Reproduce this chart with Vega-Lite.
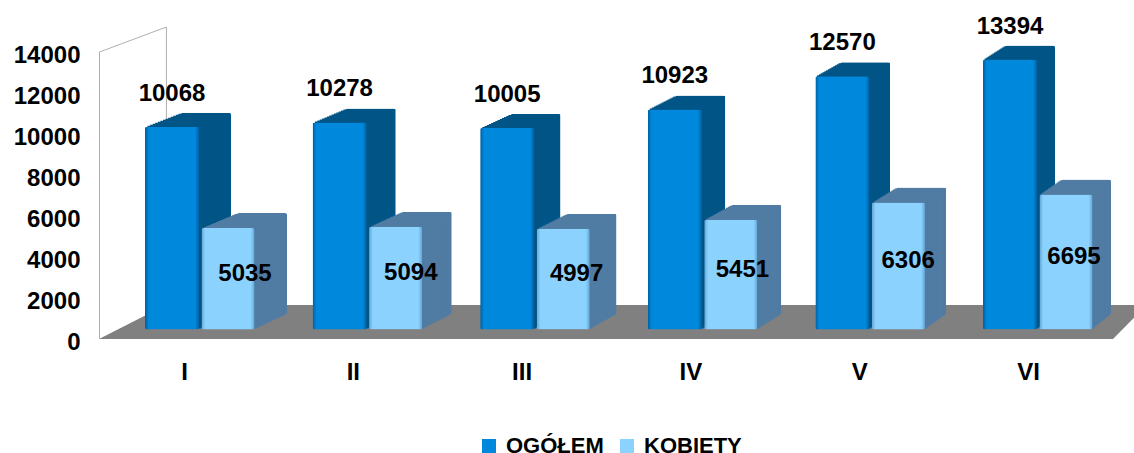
{"$schema":"https://vega.github.io/schema/vega-lite/v6.json","width":1134,"height":453,"padding":0,"autosize":{"type":"none"},"background":"white","config":{"view":{"stroke":null},"font":"Liberation Sans"},
"datasets":{"ogolem":[{"m":"I","s":"OGÓŁEM","v":10068},{"m":"II","s":"OGÓŁEM","v":10278},{"m":"III","s":"OGÓŁEM","v":10005},{"m":"IV","s":"OGÓŁEM","v":10923},{"m":"V","s":"OGÓŁEM","v":12570},{"m":"VI","s":"OGÓŁEM","v":13394}],
"kobiety":[{"m":"I","s":"KOBIETY","v":5035},{"m":"II","s":"KOBIETY","v":5094},{"m":"III","s":"KOBIETY","v":4997},{"m":"IV","s":"KOBIETY","v":5451},{"m":"V","s":"KOBIETY","v":6306},{"m":"VI","s":"KOBIETY","v":6695}],
"floor":[{"p":0,"lo":0,"hi":0},{"p":0.396,"lo":0,"hi":1659},{"p":6,"lo":0,"hi":1659},{"p":6.2,"lo":1659,"hi":1659}],
"wall":[{"o":1,"p":0,"y":0},{"o":2,"p":0,"y":14000},{"o":3,"p":0.396,"y":15220},{"o":4,"p":0.396,"y":1659}]},
"layer":[
{"data":{"name":"floor"},"mark":{"type":"area","color":"#808080"},"encoding":{"x":{"field":"p","type":"quantitative","scale":{"domain":[0,6.2],"range":[99,1146.8]},"axis":null},"y":{"field":"lo","type":"quantitative","scale":{"domain":[0,16000],"range":[339,11]},"axis":null},"y2":{"field":"hi"}}},
{"data":{"name":"wall"},"mark":{"type":"line","color":"#b0b0b0","strokeWidth":1},"encoding":{"order":{"field":"o","type":"quantitative"},"x":{"field":"p","type":"quantitative","scale":{"domain":[0,6.2],"range":[99.5,1147.3]},"axis":null},"y":{"field":"y","type":"quantitative","scale":{"domain":[0,16000],"range":[339,11]},"axis":null}}},
{"data":{"name":"ogolem"},"mark":{"type":"point","opacity":0},"encoding":{"x":{"field":"m","type":"ordinal","scale":{"type":"point","padding":0,"domain":["I","II","III","IV","V","VI"],"range":[184,1028]},"axis":{"title":null,"orient":"bottom","offset":-81,"domain":false,"ticks":false,"labelAngle":0,"labelPadding":0,"labelBaseline":"middle","labelFont":"Liberation Sans","labelFontSize":24,"labelFontWeight":"bold","labelColor":"#000"}},"y":{"field":"v","type":"quantitative","scale":{"domain":[0,14000],"range":[342,55]},"axis":{"title":null,"orient":"left","offset":-80,"values":[0,2000,4000,6000,8000,10000,12000,14000],"format":"d","domain":false,"ticks":false,"grid":false,"labelPadding":0,"labelFont":"Liberation Sans","labelFontSize":24,"labelFontWeight":"bold","labelColor":"#000"}}}},
{"data":{"name":"ogolem"},"mark":{"type":"bar","size":50,"color":"#005586","cornerRadius":2},"encoding":{"x":{"field":"m","type":"ordinal","scale":{"type":"point","padding":0,"domain":["I","II","III","IV","V","VI"],"range":[206,1030]},"axis":null},"y":{"field":"v","type":"quantitative","scale":{"domain":[0,14000],"range":[315.5,33.4]},"axis":null}}},
{"data":{"name":"ogolem"},"mark":{"type":"bar","size":50.3,"color":"#005586"},"encoding":{"x":{"field":"m","type":"ordinal","scale":{"type":"point","padding":0,"domain":["I","II","III","IV","V","VI"],"range":[203.6,1028.6]},"axis":null},"y":{"field":"v","type":"quantitative","scale":{"domain":[0,14000],"range":[316.5,34.4]},"axis":null}}},
{"data":{"name":"ogolem"},"mark":{"type":"bar","size":50.6,"color":"#005586"},"encoding":{"x":{"field":"m","type":"ordinal","scale":{"type":"point","padding":0,"domain":["I","II","III","IV","V","VI"],"range":[201.2,1027.2]},"axis":null},"y":{"field":"v","type":"quantitative","scale":{"domain":[0,14000],"range":[317.5,35.4]},"axis":null}}},
{"data":{"name":"ogolem"},"mark":{"type":"bar","size":50.9,"color":"#005586"},"encoding":{"x":{"field":"m","type":"ordinal","scale":{"type":"point","padding":0,"domain":["I","II","III","IV","V","VI"],"range":[198.7,1025.7]},"axis":null},"y":{"field":"v","type":"quantitative","scale":{"domain":[0,14000],"range":[318.5,36.4]},"axis":null}}},
{"data":{"name":"ogolem"},"mark":{"type":"bar","size":51.1,"color":"#005586"},"encoding":{"x":{"field":"m","type":"ordinal","scale":{"type":"point","padding":0,"domain":["I","II","III","IV","V","VI"],"range":[196.3,1024.3]},"axis":null},"y":{"field":"v","type":"quantitative","scale":{"domain":[0,14000],"range":[319.5,37.4]},"axis":null}}},
{"data":{"name":"ogolem"},"mark":{"type":"bar","size":51.4,"color":"#005586"},"encoding":{"x":{"field":"m","type":"ordinal","scale":{"type":"point","padding":0,"domain":["I","II","III","IV","V","VI"],"range":[193.9,1022.9]},"axis":null},"y":{"field":"v","type":"quantitative","scale":{"domain":[0,14000],"range":[320.5,38.4]},"axis":null}}},
{"data":{"name":"ogolem"},"mark":{"type":"bar","size":51.7,"color":"#005586"},"encoding":{"x":{"field":"m","type":"ordinal","scale":{"type":"point","padding":0,"domain":["I","II","III","IV","V","VI"],"range":[191.4,1021.4]},"axis":null},"y":{"field":"v","type":"quantitative","scale":{"domain":[0,14000],"range":[321.5,39.4]},"axis":null}}},
{"data":{"name":"ogolem"},"mark":{"type":"bar","size":52,"color":"#005586"},"encoding":{"x":{"field":"m","type":"ordinal","scale":{"type":"point","padding":0,"domain":["I","II","III","IV","V","VI"],"range":[189,1020]},"axis":null},"y":{"field":"v","type":"quantitative","scale":{"domain":[0,14000],"range":[322.5,40.4]},"axis":null}}},
{"data":{"name":"ogolem"},"mark":{"type":"bar","size":52.3,"color":"#005586"},"encoding":{"x":{"field":"m","type":"ordinal","scale":{"type":"point","padding":0,"domain":["I","II","III","IV","V","VI"],"range":[186.6,1018.6]},"axis":null},"y":{"field":"v","type":"quantitative","scale":{"domain":[0,14000],"range":[323.5,41.4]},"axis":null}}},
{"data":{"name":"ogolem"},"mark":{"type":"bar","size":52.6,"color":"#005586"},"encoding":{"x":{"field":"m","type":"ordinal","scale":{"type":"point","padding":0,"domain":["I","II","III","IV","V","VI"],"range":[184.2,1017.2]},"axis":null},"y":{"field":"v","type":"quantitative","scale":{"domain":[0,14000],"range":[324.5,42.4]},"axis":null}}},
{"data":{"name":"ogolem"},"mark":{"type":"bar","size":52.9,"color":"#005586"},"encoding":{"x":{"field":"m","type":"ordinal","scale":{"type":"point","padding":0,"domain":["I","II","III","IV","V","VI"],"range":[181.7,1015.7]},"axis":null},"y":{"field":"v","type":"quantitative","scale":{"domain":[0,14000],"range":[325.5,43.4]},"axis":null}}},
{"data":{"name":"ogolem"},"mark":{"type":"bar","size":53.1,"color":"#005586"},"encoding":{"x":{"field":"m","type":"ordinal","scale":{"type":"point","padding":0,"domain":["I","II","III","IV","V","VI"],"range":[179.3,1014.3]},"axis":null},"y":{"field":"v","type":"quantitative","scale":{"domain":[0,14000],"range":[326.5,44.4]},"axis":null}}},
{"data":{"name":"ogolem"},"mark":{"type":"bar","size":53.4,"color":"#005586"},"encoding":{"x":{"field":"m","type":"ordinal","scale":{"type":"point","padding":0,"domain":["I","II","III","IV","V","VI"],"range":[176.9,1012.9]},"axis":null},"y":{"field":"v","type":"quantitative","scale":{"domain":[0,14000],"range":[327.5,45.4]},"axis":null}}},
{"data":{"name":"ogolem"},"mark":{"type":"bar","size":53.7,"color":"#005586"},"encoding":{"x":{"field":"m","type":"ordinal","scale":{"type":"point","padding":0,"domain":["I","II","III","IV","V","VI"],"range":[174.4,1011.4]},"axis":null},"y":{"field":"v","type":"quantitative","scale":{"domain":[0,14000],"range":[328.5,46.4]},"axis":null}}},
{"data":{"name":"kobiety"},"mark":{"type":"bar","size":50,"color":"#507CA3","cornerRadius":2},"encoding":{"x":{"field":"m","type":"ordinal","scale":{"type":"point","padding":0,"domain":["I","II","III","IV","V","VI"],"range":[262,1086]},"axis":null},"y":{"field":"v","type":"quantitative","scale":{"domain":[0,14000],"range":[314.5,32.4]},"axis":null}}},
{"data":{"name":"kobiety"},"mark":{"type":"bar","size":50.2,"color":"#507CA3"},"encoding":{"x":{"field":"m","type":"ordinal","scale":{"type":"point","padding":0,"domain":["I","II","III","IV","V","VI"],"range":[259.7,1084.7]},"axis":null},"y":{"field":"v","type":"quantitative","scale":{"domain":[0,14000],"range":[315.5,33.4]},"axis":null}}},
{"data":{"name":"kobiety"},"mark":{"type":"bar","size":50.4,"color":"#507CA3"},"encoding":{"x":{"field":"m","type":"ordinal","scale":{"type":"point","padding":0,"domain":["I","II","III","IV","V","VI"],"range":[257.5,1083.3]},"axis":null},"y":{"field":"v","type":"quantitative","scale":{"domain":[0,14000],"range":[316.5,34.4]},"axis":null}}},
{"data":{"name":"kobiety"},"mark":{"type":"bar","size":50.6,"color":"#507CA3"},"encoding":{"x":{"field":"m","type":"ordinal","scale":{"type":"point","padding":0,"domain":["I","II","III","IV","V","VI"],"range":[255.2,1082]},"axis":null},"y":{"field":"v","type":"quantitative","scale":{"domain":[0,14000],"range":[317.5,35.4]},"axis":null}}},
{"data":{"name":"kobiety"},"mark":{"type":"bar","size":50.8,"color":"#507CA3"},"encoding":{"x":{"field":"m","type":"ordinal","scale":{"type":"point","padding":0,"domain":["I","II","III","IV","V","VI"],"range":[252.9,1080.7]},"axis":null},"y":{"field":"v","type":"quantitative","scale":{"domain":[0,14000],"range":[318.5,36.4]},"axis":null}}},
{"data":{"name":"kobiety"},"mark":{"type":"bar","size":51,"color":"#507CA3"},"encoding":{"x":{"field":"m","type":"ordinal","scale":{"type":"point","padding":0,"domain":["I","II","III","IV","V","VI"],"range":[250.7,1079.3]},"axis":null},"y":{"field":"v","type":"quantitative","scale":{"domain":[0,14000],"range":[319.5,37.4]},"axis":null}}},
{"data":{"name":"kobiety"},"mark":{"type":"bar","size":51.2,"color":"#507CA3"},"encoding":{"x":{"field":"m","type":"ordinal","scale":{"type":"point","padding":0,"domain":["I","II","III","IV","V","VI"],"range":[248.4,1078]},"axis":null},"y":{"field":"v","type":"quantitative","scale":{"domain":[0,14000],"range":[320.5,38.4]},"axis":null}}},
{"data":{"name":"kobiety"},"mark":{"type":"bar","size":51.4,"color":"#507CA3"},"encoding":{"x":{"field":"m","type":"ordinal","scale":{"type":"point","padding":0,"domain":["I","II","III","IV","V","VI"],"range":[246.1,1076.7]},"axis":null},"y":{"field":"v","type":"quantitative","scale":{"domain":[0,14000],"range":[321.5,39.4]},"axis":null}}},
{"data":{"name":"kobiety"},"mark":{"type":"bar","size":51.6,"color":"#507CA3"},"encoding":{"x":{"field":"m","type":"ordinal","scale":{"type":"point","padding":0,"domain":["I","II","III","IV","V","VI"],"range":[243.9,1075.3]},"axis":null},"y":{"field":"v","type":"quantitative","scale":{"domain":[0,14000],"range":[322.5,40.4]},"axis":null}}},
{"data":{"name":"kobiety"},"mark":{"type":"bar","size":51.8,"color":"#507CA3"},"encoding":{"x":{"field":"m","type":"ordinal","scale":{"type":"point","padding":0,"domain":["I","II","III","IV","V","VI"],"range":[241.6,1074]},"axis":null},"y":{"field":"v","type":"quantitative","scale":{"domain":[0,14000],"range":[323.5,41.4]},"axis":null}}},
{"data":{"name":"kobiety"},"mark":{"type":"bar","size":52,"color":"#507CA3"},"encoding":{"x":{"field":"m","type":"ordinal","scale":{"type":"point","padding":0,"domain":["I","II","III","IV","V","VI"],"range":[239.3,1072.7]},"axis":null},"y":{"field":"v","type":"quantitative","scale":{"domain":[0,14000],"range":[324.5,42.4]},"axis":null}}},
{"data":{"name":"kobiety"},"mark":{"type":"bar","size":52.2,"color":"#507CA3"},"encoding":{"x":{"field":"m","type":"ordinal","scale":{"type":"point","padding":0,"domain":["I","II","III","IV","V","VI"],"range":[237.1,1071.3]},"axis":null},"y":{"field":"v","type":"quantitative","scale":{"domain":[0,14000],"range":[325.5,43.4]},"axis":null}}},
{"data":{"name":"kobiety"},"mark":{"type":"bar","size":52.4,"color":"#507CA3"},"encoding":{"x":{"field":"m","type":"ordinal","scale":{"type":"point","padding":0,"domain":["I","II","III","IV","V","VI"],"range":[234.8,1070]},"axis":null},"y":{"field":"v","type":"quantitative","scale":{"domain":[0,14000],"range":[326.5,44.4]},"axis":null}}},
{"data":{"name":"kobiety"},"mark":{"type":"bar","size":52.6,"color":"#507CA3"},"encoding":{"x":{"field":"m","type":"ordinal","scale":{"type":"point","padding":0,"domain":["I","II","III","IV","V","VI"],"range":[232.5,1068.7]},"axis":null},"y":{"field":"v","type":"quantitative","scale":{"domain":[0,14000],"range":[327.5,45.4]},"axis":null}}},
{"data":{"name":"kobiety"},"mark":{"type":"bar","size":52.8,"color":"#507CA3"},"encoding":{"x":{"field":"m","type":"ordinal","scale":{"type":"point","padding":0,"domain":["I","II","III","IV","V","VI"],"range":[230.3,1067.3]},"axis":null},"y":{"field":"v","type":"quantitative","scale":{"domain":[0,14000],"range":[328.5,46.4]},"axis":null}}},
{"data":{"name":"ogolem"},"mark":{"type":"bar","size":54,"cornerRadius":2},"encoding":{"color":{"field":"s","type":"nominal","scale":{"domain":["OGÓŁEM","KOBIETY"],"range":["#0088DC","#8BD2FF"]},"legend":{"orient":"none","legendX":478,"legendY":435,"direction":"horizontal","title":null,"symbolType":"square","symbolSize":196,"symbolStrokeWidth":0,"labelOffset":6,"columnPadding":12,"labelFont":"Liberation Sans","labelFontSize":22,"labelFontWeight":"bold","labelColor":"#000"}},"x":{"field":"m","type":"ordinal","scale":{"type":"point","padding":0,"domain":["I","II","III","IV","V","VI"],"range":[172,1010]},"axis":null},"y":{"field":"v","type":"quantitative","scale":{"domain":[0,14000],"range":[329.5,47.4]},"axis":null}}},
{"data":{"name":"ogolem"},"mark":{"type":"bar","size":54,"cornerRadius":2,"color":{"x1":0,"x2":1,"y1":0,"y2":0,"gradient":"linear","stops":[{"offset":0,"color":"rgba(0,60,110,0.55)"},{"offset":0.07,"color":"rgba(0,60,110,0)"},{"offset":0.93,"color":"rgba(0,60,110,0)"},{"offset":1,"color":"rgba(0,60,110,0.55)"}]}},"encoding":{"x":{"field":"m","type":"ordinal","scale":{"type":"point","padding":0,"domain":["I","II","III","IV","V","VI"],"range":[172,1010]},"axis":null},"y":{"field":"v","type":"quantitative","scale":{"domain":[0,14000],"range":[329.5,47.4]},"axis":null}}},
{"data":{"name":"kobiety"},"mark":{"type":"bar","size":53,"cornerRadius":2},"encoding":{"color":{"field":"s","type":"nominal","scale":{"domain":["OGÓŁEM","KOBIETY"],"range":["#0088DC","#8BD2FF"]}},"x":{"field":"m","type":"ordinal","scale":{"type":"point","padding":0,"domain":["I","II","III","IV","V","VI"],"range":[228,1066]},"axis":null},"y":{"field":"v","type":"quantitative","scale":{"domain":[0,14000],"range":[329.5,47.4]},"axis":null}}},
{"data":{"name":"kobiety"},"mark":{"type":"bar","size":53,"cornerRadius":2,"color":{"x1":0,"x2":1,"y1":0,"y2":0,"gradient":"linear","stops":[{"offset":0,"color":"rgba(60,120,170,0.5)"},{"offset":0.07,"color":"rgba(60,120,170,0)"},{"offset":0.93,"color":"rgba(60,120,170,0)"},{"offset":1,"color":"rgba(60,120,170,0.5)"}]}},"encoding":{"x":{"field":"m","type":"ordinal","scale":{"type":"point","padding":0,"domain":["I","II","III","IV","V","VI"],"range":[228,1066]},"axis":null},"y":{"field":"v","type":"quantitative","scale":{"domain":[0,14000],"range":[329.5,47.4]},"axis":null}}},
{"data":{"name":"ogolem"},"mark":{"type":"text","dy":-33,"baseline":"middle","font":"Liberation Sans","fontSize":24,"fontWeight":"bold","color":"#000"},"encoding":{"text":{"field":"v","type":"quantitative","format":"d"},"x":{"field":"m","type":"ordinal","scale":{"type":"point","padding":0,"domain":["I","II","III","IV","V","VI"],"range":[172,1010]},"axis":null},"y":{"field":"v","type":"quantitative","scale":{"domain":[0,14000],"range":[329.5,47.4]},"axis":null}}},
{"data":{"name":"kobiety"},"mark":{"type":"text","baseline":"middle","font":"Liberation Sans","fontSize":24,"fontWeight":"bold","color":"#000"},"encoding":{"text":{"field":"v","type":"quantitative","format":"d"},"x":{"field":"m","type":"ordinal","scale":{"type":"point","padding":0,"domain":["I","II","III","IV","V","VI"],"range":[245,1074]},"axis":null},"y":{"field":"v","type":"quantitative","scale":{"domain":[0,14000],"range":[325.6,182.2]},"axis":null}}}
],
"resolve":{"scale":{"x":"independent","y":"independent"}}}
